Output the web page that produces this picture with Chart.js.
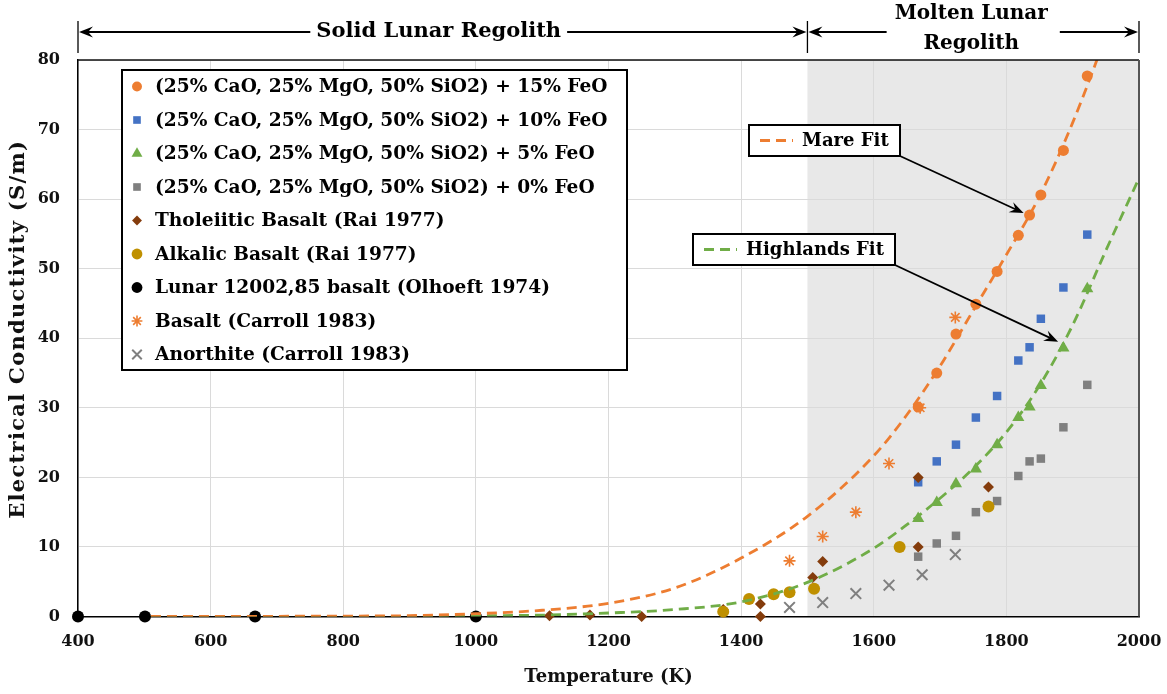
<!DOCTYPE html>
<html>
<head>
<meta charset="utf-8">
<script src="https://cdn.jsdelivr.net/npm/chart.js@4.4.0/dist/chart.umd.min.js"></script>
<style>
  body { margin: 0; background: #fff; }
  #wrap { width: 1167px; height: 694px; }
</style>
</head>
<body>
<div id="wrap"><canvas id="chart" width="1167" height="694"></canvas></div>
<script>
const FONT = '"DejaVu Serif", serif';

// axis ticks
const xTickValues = [400, 600, 800, 1000, 1200, 1400, 1600, 1800, 2000];
const yTickValues = [0, 10, 20, 30, 40, 50, 60, 70, 80];

// synthetic slag melts, same temperatures for every FeO level
const feoTemps = [1667, 1695, 1724, 1754, 1786, 1818, 1835, 1852, 1886, 1922];
const feo15 = [30.1, 35.0, 40.6, 44.9, 49.6, 54.8, 57.7, 60.6, 67.0, 77.7];
const feo10 = [19.3, 22.3, 24.7, 28.6, 31.7, 36.8, 38.7, 42.8, 47.3, 54.9];
const feo5  = [14.1, 16.4, 19.1, 21.2, 24.7, 28.6, 30.1, 33.2, 38.6, 47.1];
const feo0  = [8.6, 10.5, 11.6, 15.0, 16.6, 20.2, 22.3, 22.7, 27.2, 33.3];

const tholTemps = [1111, 1172, 1250, 1373, 1429, 1429, 1508, 1523, 1667, 1667, 1773];
const tholVals  = [0.1, 0.2, 0.0, 1.0, 1.8, 0.0, 5.6, 7.9, 20.0, 10.0, 18.6];

const alkTemps = [1373, 1412, 1449, 1473, 1510, 1639, 1773];
const alkVals  = [0.7, 2.5, 3.2, 3.5, 4.0, 10.0, 15.8];

const lunarTemps = [400, 501, 667, 1000];
const lunarVals  = [0, 0, 0, 0];

const carrollTemps = [1473, 1523, 1573, 1623, 1670, 1723];
const basaltVals   = [8.0, 11.5, 15.0, 22.0, 30.0, 43.0];
const anorthTemps  = [1473, 1523, 1573, 1623, 1673, 1723];
const anorthVals   = [1.3, 2.0, 3.3, 4.5, 6.0, 8.9];

// fitted curves
const fitTemps  = [510, 600, 700, 800, 900, 1000, 1100, 1200, 1300, 1400, 1500, 1600, 1650, 1700, 1750, 1800, 1850, 1900, 1950, 2000];
const mareFit   = [0, 0.01, 0.03, 0.06, 0.12, 0.4, 0.9, 1.9, 4.1, 8.4, 14.4, 23.1, 29.0, 36.0, 44.0, 52.0, 60.4, 71.0, 83.5, 97.0];
const highFit   = [0, 0, 0, 0.01, 0.03, 0.1, 0.2, 0.5, 1.0, 2.1, 4.9, 9.8, 13.2, 17.0, 21.3, 26.5, 33.2, 41.9, 52.6, 63.0];

const zip = (xs, ys) => xs.map((x, i) => ({ x: x, y: ys[i] }));

function scatterSet(label, xs, ys, style, order) {
  return Object.assign({
    label: label,
    data: zip(xs, ys),
    showLine: false,
    clip: false,
    order: order,
    borderWidth: 0
  }, style);
}

function fitSet(label, ys, color) {
  return {
    label: label,
    isFit: true,
    data: zip(fitTemps, ys),
    showLine: true,
    pointRadius: 0,
    borderColor: color,
    borderWidth: 2.8,
    borderDash: [10, 6],
    cubicInterpolationMode: 'monotone',
    fill: false,
    order: 0
  };
}

const ORANGE = '#ED7D31', BLUE = '#4472C4', GREEN = '#70AD47', GREY = '#7F7F7F',
      BROWN = '#843C0C', GOLD = '#BF9000';

const datasets = [
  scatterSet('(25% CaO, 25% MgO, 50% SiO2) + 15% FeO', feoTemps, feo15,
    { pointStyle: 'circle', pointRadius: 5.5, backgroundColor: ORANGE, borderColor: ORANGE }, 9),
  scatterSet('(25% CaO, 25% MgO, 50% SiO2) + 10% FeO', feoTemps, feo10,
    { pointStyle: 'rect', pointRadius: 6, backgroundColor: BLUE, borderColor: BLUE }, 8),
  scatterSet('(25% CaO, 25% MgO, 50% SiO2) + 5% FeO', feoTemps, feo5,
    { pointStyle: 'triangle', pointRadius: 7, backgroundColor: GREEN, borderColor: GREEN }, 7),
  scatterSet('(25% CaO, 25% MgO, 50% SiO2) + 0% FeO', feoTemps, feo0,
    { pointStyle: 'rect', pointRadius: 6, backgroundColor: GREY, borderColor: GREY }, 6),
  scatterSet('Tholeiitic Basalt (Rai 1977)', tholTemps, tholVals,
    { pointStyle: 'rectRot', pointRadius: 5.5, backgroundColor: BROWN, borderColor: BROWN }, 5),
  scatterSet('Alkalic Basalt (Rai 1977)', alkTemps, alkVals,
    { pointStyle: 'circle', pointRadius: 6, backgroundColor: GOLD, borderColor: GOLD }, 4),
  scatterSet('Lunar 12002,85 basalt (Olhoeft 1974)', lunarTemps, lunarVals,
    { pointStyle: 'circle', pointRadius: 6, backgroundColor: '#000', borderColor: '#000' }, 3),
  scatterSet('Basalt (Carroll 1983)', carrollTemps, basaltVals,
    { pointStyle: 'star', pointRadius: 6, backgroundColor: ORANGE, borderColor: ORANGE, borderWidth: 1.6 }, 2),
  scatterSet('Anorthite (Carroll 1983)', anorthTemps, anorthVals,
    { pointStyle: 'crossRot', pointRadius: 7.5, backgroundColor: GREY, borderColor: GREY, borderWidth: 2 }, 1),
  fitSet('Mare Fit', mareFit, ORANGE),
  fitSet('Highlands Fit', highFit, GREEN)
];

// molten region background
const shadePlugin = {
  id: 'shade',
  beforeDraw(chart) {
    const { ctx, chartArea: a, scales: { x } } = chart;
    const x0 = x.getPixelForValue(1500);
    ctx.save();
    ctx.fillStyle = '#e8e8e8';
    ctx.fillRect(x0, a.top, a.right - x0, a.bottom - a.top);
    ctx.restore();
  }
};

function arrowHead(ctx, tx, ty, angle, len, half) {
  ctx.save();
  ctx.translate(tx, ty);
  ctx.rotate(angle);
  ctx.beginPath();
  ctx.moveTo(0, 0);
  ctx.lineTo(-len, -half);
  ctx.lineTo(-len * 0.65, 0);
  ctx.lineTo(-len, half);
  ctx.closePath();
  ctx.fill();
  ctx.restore();
}

function arrowLine(ctx, x1, y1, x2, y2) {
  const ang = Math.atan2(y2 - y1, x2 - x1);
  ctx.beginPath();
  ctx.moveTo(x1, y1);
  ctx.lineTo(x2 - Math.cos(ang) * 6, y2 - Math.sin(ang) * 6);
  ctx.stroke();
  arrowHead(ctx, x2, y2, ang, 14, 5.5);
}

// frame, range brackets above the plot, y title, legend box and fit labels
const overlayPlugin = {
  id: 'overlay',
  afterDraw(chart) {
    const { ctx, chartArea: a, scales: { x, y } } = chart;
    ctx.save();

    // top and right edges of the frame
    ctx.strokeStyle = '#111';
    ctx.lineWidth = 1.5;
    ctx.beginPath();
    ctx.moveTo(a.left, a.top);
    ctx.lineTo(a.right, a.top);
    ctx.stroke();
    ctx.strokeStyle = '#555';
    ctx.lineWidth = 2;
    ctx.beginPath();
    ctx.moveTo(a.right, a.top);
    ctx.lineTo(a.right, a.bottom);
    ctx.stroke();

    // y axis title
    ctx.save();
    ctx.translate(19, (a.top + a.bottom) / 2 - 9);
    ctx.rotate(-Math.PI / 2);
    ctx.font = 'bold 21px ' + FONT;
    ctx.letterSpacing = '1.3px';
    ctx.fillStyle = '#111';
    ctx.textAlign = 'center';
    ctx.textBaseline = 'middle';
    ctx.fillText('Electrical Conductivity (S/m)', 0, 0);
    ctx.restore();

    // solid / molten brackets
    const xs = x.getPixelForValue(400), xm = x.getPixelForValue(1500), xe = x.getPixelForValue(2000);
    const by = 32;
    ctx.strokeStyle = '#000';
    ctx.fillStyle = '#000';
    ctx.lineWidth = 1.3;
    [xs, xm, xe].forEach(px => {
      ctx.beginPath();
      ctx.moveTo(px, 21);
      ctx.lineTo(px, 53);
      ctx.stroke();
    });
    ctx.font = 'bold 21px ' + FONT;
    ctx.textAlign = 'center';
    ctx.textBaseline = 'middle';
    ctx.lineWidth = 2.2;

    const solidText = 'Solid Lunar Regolith';
    const sc = (xs + xm) / 2 - 4;
    const sw = ctx.measureText(solidText).width;
    ctx.fillText(solidText, sc, by);
    arrowLine(ctx, sc - sw / 2 - 6, by, xs + 1, by);
    arrowLine(ctx, sc + sw / 2 + 6, by, xm - 1, by);

    ctx.font = 'bold 20px ' + FONT;
    const mc = (xm + xe) / 2 - 2;
    const mw = ctx.measureText('Molten Lunar').width;
    ctx.fillText('Molten Lunar', mc, 14);
    ctx.fillText('Regolith', mc, 44);
    arrowLine(ctx, mc - mw / 2 - 8, by, xm + 1, by);
    arrowLine(ctx, mc + mw / 2 + 12, by, xe - 1, by);

    // legend
    const lx = 122, ly = 70, lw = 505, lh = 300;
    ctx.fillStyle = '#fff';
    ctx.fillRect(lx, ly, lw, lh);
    ctx.strokeStyle = '#000';
    ctx.lineWidth = 2;
    ctx.strokeRect(lx, ly, lw, lh);
    ctx.font = 'bold 18.6px ' + FONT;
    ctx.textAlign = 'left';
    chart.data.datasets.filter(d => !d.isFit).forEach((d, i) => {
      const cy = ly + 16.5 + i * 33.5;
      ctx.fillStyle = d.backgroundColor;
      ctx.strokeStyle = d.borderColor;
      ctx.lineWidth = d.borderWidth || 0;
      Chart.helpers.drawPoint(ctx, {
        pointStyle: d.pointStyle,
        rotation: 0,
        radius: d.pointRadius * 0.9,
        borderWidth: d.borderWidth || 0
      }, lx + 15, cy);
      ctx.fillStyle = '#000';
      ctx.fillText(d.label, lx + 33, cy + 1);
    });

    // fit labels with pointer arrows
    const fits = [
      { label: 'Mare Fit', color: ORANGE, box: [749, 125, 151, 31], tip: [1826, 58.0] },
      { label: 'Highlands Fit', color: GREEN, box: [693, 234, 202, 31], tip: [1878, 39.5] }
    ];
    fits.forEach(f => {
      const [bx, byy, bw, bh] = f.box;
      ctx.fillStyle = '#fff';
      ctx.fillRect(bx, byy, bw, bh);
      ctx.strokeStyle = '#000';
      ctx.lineWidth = 2;
      ctx.strokeRect(bx, byy, bw, bh);
      const cy = byy + bh / 2;
      ctx.save();
      ctx.strokeStyle = f.color;
      ctx.lineWidth = 2.8;
      ctx.setLineDash([10, 6]);
      ctx.beginPath();
      ctx.moveTo(bx + 11, cy);
      ctx.lineTo(bx + 44, cy);
      ctx.stroke();
      ctx.restore();
      ctx.fillStyle = '#000';
      ctx.font = 'bold 18px ' + FONT;
      ctx.textAlign = 'left';
      ctx.fillText(f.label, bx + 53, cy + 1);
      ctx.strokeStyle = '#000';
      ctx.lineWidth = 1.8;
      arrowLine(ctx, bx + bw, byy + bh, x.getPixelForValue(f.tip[0]), y.getPixelForValue(f.tip[1]));
    });

    ctx.restore();
  }
};

new Chart(document.getElementById('chart').getContext('2d'), {
  type: 'scatter',
  data: { datasets: datasets },
  options: {
    responsive: false,
    animation: false,
    events: [],
    layout: { padding: { top: 60, right: 28, left: 0, bottom: 0 } },
    plugins: { legend: { display: false }, tooltip: { enabled: false } },
    scales: {
      x: {
        type: 'linear',
        min: 400,
        max: 2000,
        afterFit: s => { s.height = 77.5; s.paddingLeft = 0; s.paddingRight = 0; },
        afterBuildTicks: s => { s.ticks = xTickValues.map(v => ({ value: v })); },
        grid: { color: '#dadada', drawTicks: false },
        border: { color: '#000', width: 1.5 },
        ticks: {
          padding: 16, color: '#111',
          callback: v => String(v),
          font: { family: FONT, size: 16, weight: 'bold' }
        },
        title: {
          display: true,
          text: 'Temperature (K)',
          color: '#111',
          padding: { top: 0, bottom: 6 },
          font: { family: FONT, size: 18, weight: 'bold' }
        }
      },
      y: {
        type: 'linear',
        min: 0,
        max: 80,
        afterFit: s => { s.width = 78; s.paddingTop = 0; s.paddingBottom = 0; },
        afterBuildTicks: s => { s.ticks = yTickValues.map(v => ({ value: v })); },
        grid: { color: '#dadada', drawTicks: false },
        border: { color: '#000', width: 1.5 },
        ticks: {
          padding: 18, color: '#111',
          callback: v => String(v),
          font: { family: FONT, size: 16, weight: 'bold' }
        },
        title: { display: false }
      }
    }
  },
  plugins: [shadePlugin, overlayPlugin]
});
</script>
</body>
</html>
